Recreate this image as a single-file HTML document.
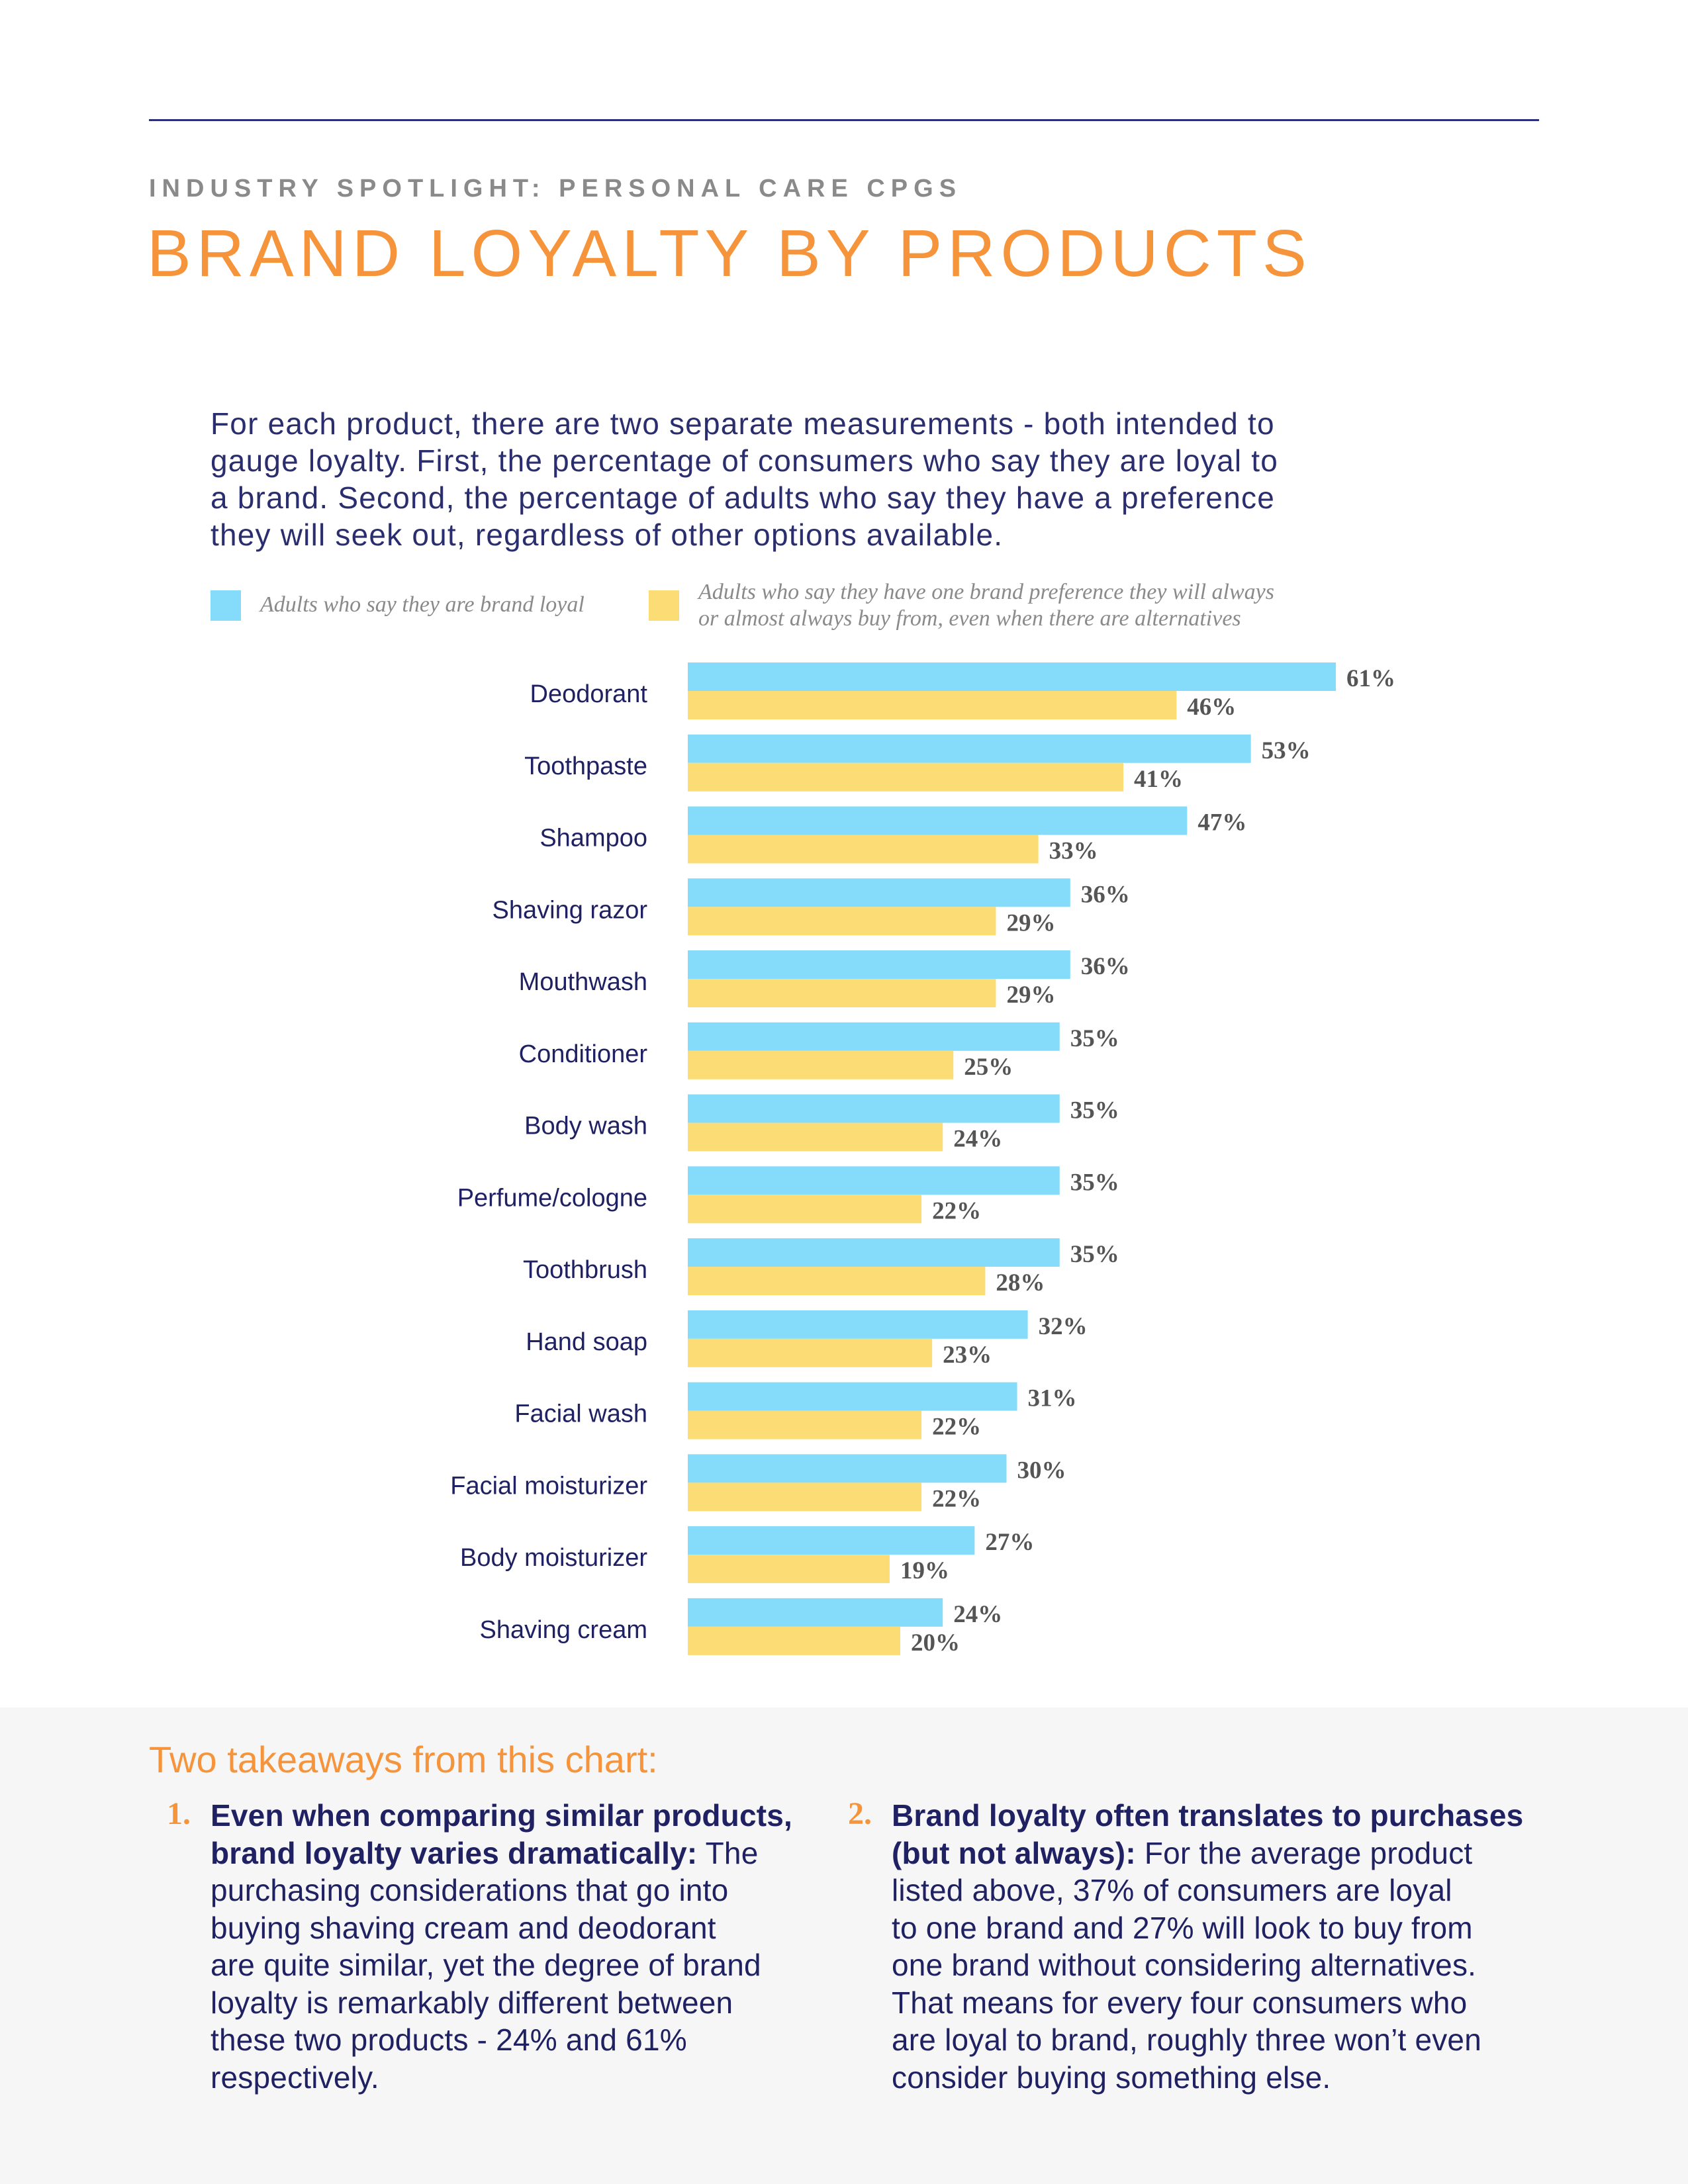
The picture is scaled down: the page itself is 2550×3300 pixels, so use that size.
<!DOCTYPE html>
<html><head><meta charset="utf-8">
<style>
body{margin:0;width:2550px;height:3300px;position:relative;background:#fff;font-family:"Liberation Sans",sans-serif;overflow:hidden}
.a{position:absolute;white-space:nowrap}
#gray{position:absolute;left:0;top:2580px;width:2550px;height:720px;background:#f6f6f6}
.para{color:#2a2d6e;font-size:46px;line-height:56px;letter-spacing:1.2px}
.tk{color:#1f2163;font-size:46px;line-height:56.5px;letter-spacing:0.2px;white-space:nowrap;position:absolute}
.num{position:absolute;color:#f5943b;font-family:"Liberation Serif",serif;font-weight:bold;font-size:48px}
</style></head><body>
<div style="position:absolute;left:225px;top:180px;width:2100px;height:3px;background:#2b2f7a"></div>
<div class="a" style="left:225px;top:264px;font-size:38px;font-weight:bold;letter-spacing:9px;color:#8a8a8a">INDUSTRY SPOTLIGHT: PERSONAL CARE CPGS</div>
<div class="a" style="left:222px;top:326px;font-size:100px;letter-spacing:8px;color:#f5943b">BRAND LOYALTY BY PRODUCTS</div>
<div class="a para" style="left:318px;top:612px">For each product, there are two separate measurements - both intended to<br>gauge loyalty. First, the percentage of consumers who say they are loyal to<br>a brand. Second, the percentage of adults who say they have a preference<br>they will seek out, regardless of other options available.</div>

<div style="position:absolute;left:318px;top:892px;width:46px;height:46px;background:#84dbfa"></div>
<div class="a" style="left:393px;top:895px;font-family:'Liberation Serif',serif;font-style:italic;font-size:34px;color:#8a8a8a">Adults who say they are brand loyal</div>
<div style="position:absolute;left:980px;top:892px;width:46px;height:46px;background:#fcdc74"></div>
<div class="a" style="left:1055px;top:875px;font-family:'Liberation Serif',serif;font-style:italic;font-size:34px;line-height:40px;color:#8a8a8a">Adults who say they have one brand preference they will always<br>or almost always buy from, even when there are alternatives</div>

<svg id="chart" style="position:absolute;left:0;top:0" width="2550" height="2580"></svg>

<div id="gray"></div>
<div class="a" style="left:225px;top:2626px;font-size:56px;color:#f5943b">Two takeaways from this chart:</div>
<div class="num" style="left:252px;top:2713px">1.</div>
<div class="tk" style="left:318px;top:2715px"><b>Even when comparing similar products,<br>brand loyalty varies dramatically:</b> The<br>purchasing considerations that go into<br>buying shaving cream and deodorant<br>are quite similar, yet the degree of brand<br>loyalty is remarkably different between<br>these two products - 24% and 61%<br>respectively.</div>
<div class="num" style="left:1281px;top:2713px">2.</div>
<div class="tk" style="left:1347px;top:2715px"><b>Brand loyalty often translates to purchases<br>(but not always):</b> For the average product<br>listed above, 37% of consumers are loyal<br>to one brand and 27% will look to buy from<br>one brand without considering alternatives.<br>That means for every four consumers who<br>are loyal to brand, roughly three won’t even<br>consider buying something else.</div>

<script>
const categories=["Deodorant","Toothpaste","Shampoo","Shaving razor","Mouthwash","Conditioner","Body wash","Perfume/cologne","Toothbrush","Hand soap","Facial wash","Facial moisturizer","Body moisturizer","Shaving cream"];
const loyalValues=[61,53,47,36,36,35,35,35,35,32,31,30,27,24];
const preferenceValues=[46,41,33,29,29,25,24,22,28,23,22,22,19,20];
const svg=document.getElementById('chart');
const NS='http://www.w3.org/2000/svg';
const x0=1039, pxPer=16.05, top0=1001, step=108.76, bh=43;
function xs(v){return x0+v*pxPer;}
function ys(i){return top0+i*step;}
function mk(t,a){const e=document.createElementNS(NS,t);for(const k in a)e.setAttribute(k,a[k]);svg.appendChild(e);return e;}
categories.forEach((c,i)=>{
  const y=ys(i);
  const lbl=mk('text',{x:978,y:y+bh+17,'text-anchor':'end','font-family':'Liberation Sans, sans-serif','font-size':38,fill:'#1f2163'});
  lbl.textContent=c;
  
  
  const b1=mk('rect',{x:x0,y:y,width:xs(loyalValues[i])-x0,height:bh,fill:'#84dbfa'});
  
  
  const b2=mk('rect',{x:x0,y:y+bh,width:xs(preferenceValues[i])-x0,height:bh,fill:'#fcdc74'});
  
  
  const t1=mk('text',{x:xs(loyalValues[i])+16,y:y+36,'font-family':'Liberation Serif, serif','font-weight':'bold','font-size':37,fill:'#555'});
  t1.textContent=loyalValues[i]+'%';
  
  
  const t2=mk('text',{x:xs(preferenceValues[i])+16,y:y+bh+36,'font-family':'Liberation Serif, serif','font-weight':'bold','font-size':37,fill:'#555'});
  t2.textContent=preferenceValues[i]+'%';
  
  
});
</script>
</body></html>
